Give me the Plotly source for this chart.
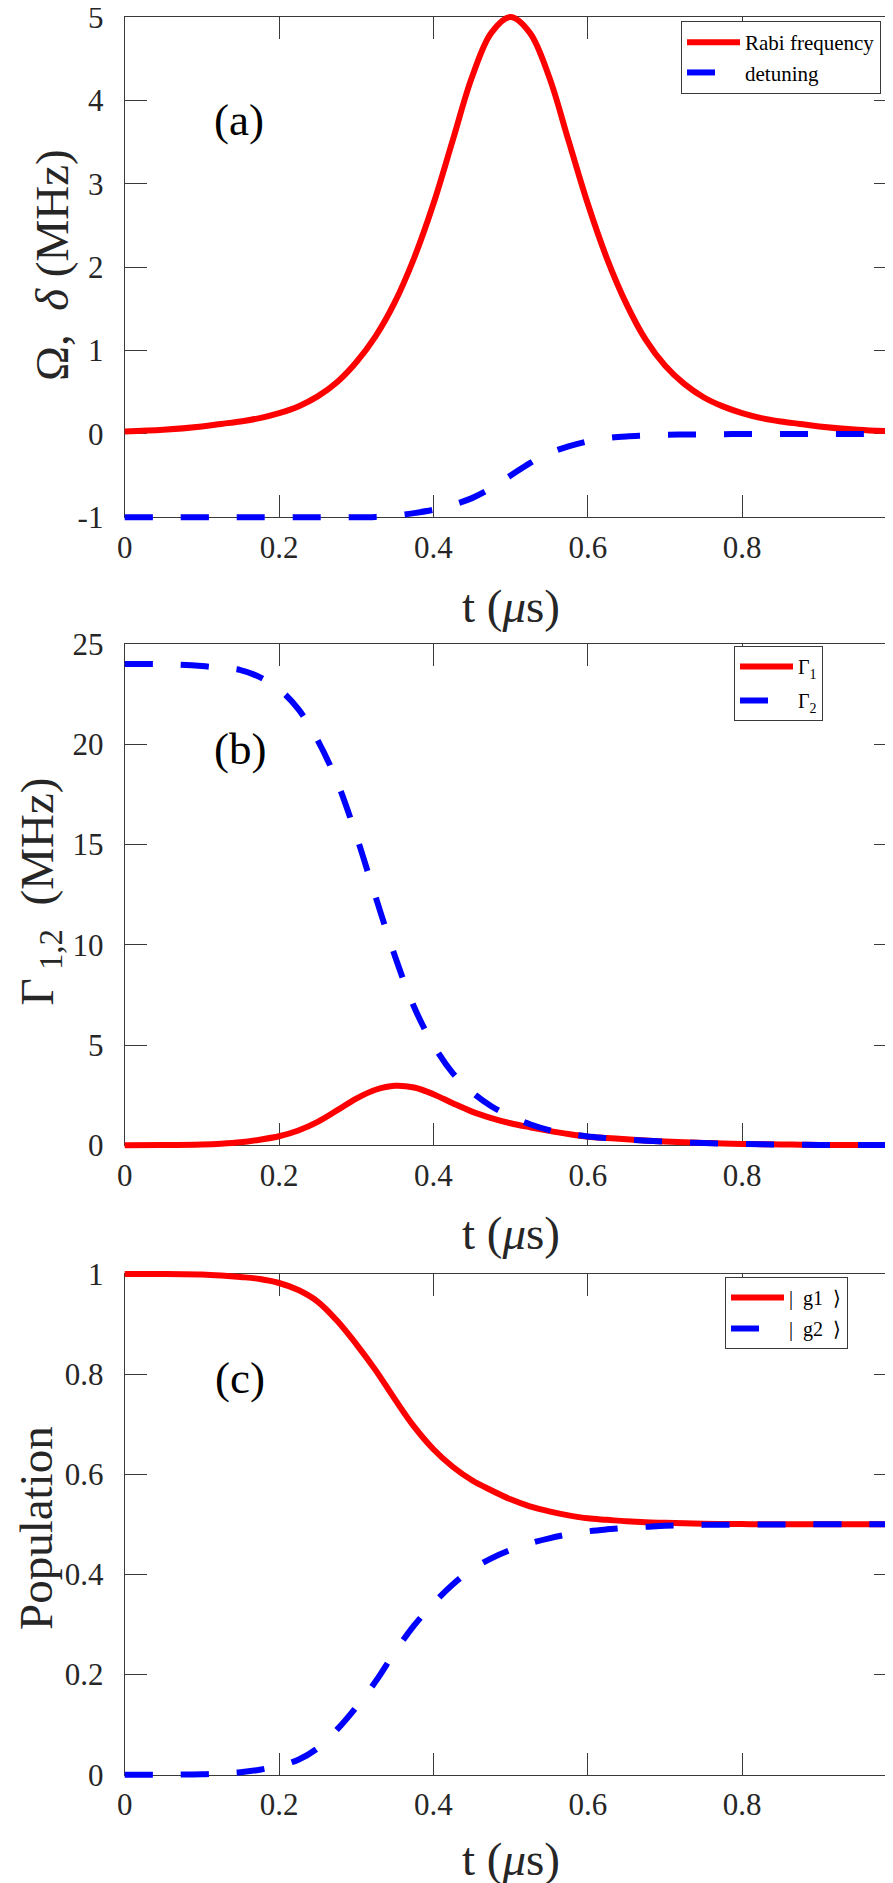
import plotly.graph_objects as go

# ---------------- data ----------------
t = [0.0, 0.05, 0.1, 0.125, 0.15, 0.175, 0.2, 0.225, 0.25, 0.275, 0.3, 0.325,
     0.35, 0.375, 0.4, 0.425, 0.45, 0.475, 0.5, 0.525, 0.55, 0.575, 0.6, 0.625,
     0.65, 0.675, 0.7, 0.725, 0.75, 0.775, 0.8, 0.825, 0.85, 0.875, 0.9, 0.95, 1.0]

rabi = [0.03, 0.05, 0.09, 0.12, 0.15, 0.19, 0.25, 0.33, 0.45, 0.62, 0.86, 1.17,
        1.58, 2.11, 2.76, 3.52, 4.28, 4.81, 5.0, 4.81, 4.28, 3.52, 2.76, 2.1,
        1.56, 1.13, 0.82, 0.6, 0.44, 0.33, 0.25, 0.19, 0.15, 0.12, 0.09, 0.05, 0.03]

detuning = [-1, -1, -1, -1, -1, -1, -1, -1, -1, -1, -1, -0.995,
            -0.98, -0.95, -0.91, -0.85, -0.77, -0.65, -0.5, -0.35, -0.23, -0.15, -0.09, -0.05,
            -0.03, -0.02, -0.01, -0.007, -0.005, -0.003, -0.002, -0.001, 0, 0, 0, 0, 0]

gamma1 = [0.0, 0.01, 0.04, 0.08, 0.15, 0.28, 0.45, 0.74, 1.17, 1.74, 2.33, 2.77,
          2.97, 2.88, 2.55, 2.1, 1.68, 1.36, 1.1, 0.9, 0.72, 0.56, 0.43, 0.36,
          0.3, 0.24, 0.19, 0.15, 0.12, 0.09, 0.07, 0.055, 0.04, 0.03, 0.02, 0.015, 0.01]

gamma2 = [24.0, 24.0, 23.9, 23.8, 23.7, 23.35, 22.75, 21.75, 20.2, 18.15, 15.45, 12.4,
          9.45, 6.9, 5.0, 3.6, 2.65, 1.95, 1.45, 1.05, 0.76, 0.57, 0.44, 0.36,
          0.29, 0.23, 0.18, 0.14, 0.11, 0.085, 0.065, 0.05, 0.04, 0.03, 0.02, 0.015, 0.01]

pop_g1 = [1.0, 1.0, 0.999, 0.997, 0.994, 0.99, 0.982, 0.968, 0.945, 0.907, 0.86, 0.808,
          0.75, 0.695, 0.65, 0.615, 0.588, 0.568, 0.55, 0.536, 0.526, 0.518, 0.512, 0.509,
          0.506, 0.504, 0.503, 0.502, 0.501, 0.5007, 0.5005, 0.5003, 0.5002, 0.5001, 0.5, 0.5, 0.5]

pop_g2 = [0.0, 0.0, 0.001, 0.003, 0.005, 0.01, 0.018, 0.03, 0.053, 0.09, 0.135, 0.186,
          0.245, 0.298, 0.342, 0.38, 0.41, 0.432, 0.449, 0.462, 0.472, 0.48, 0.486, 0.49,
          0.493, 0.495, 0.497, 0.498, 0.499, 0.4993, 0.4995, 0.4997, 0.4998, 0.4999, 0.5, 0.5, 0.5]

x_ticks = [0, 0.2, 0.4, 0.6, 0.8, 1.0]
x_ticktext = ["0", "0.2", "0.4", "0.6", "0.8", "1"]
ya_ticks = [-1, 0, 1, 2, 3, 4, 5]
yb_ticks = [0, 5, 10, 15, 20, 25]
yc_ticks = [0, 0.2, 0.4, 0.6, 0.8, 1.0]
yc_ticktext = ["0", "0.2", "0.4", "0.6", "0.8", "1"]

# ---------------- geometry (pixels) ----------------
W, H = 893, 1883
X0, X1 = 116.7, 888.5
panels = [  # (top, bottom, yrange)
    (9.0, 509.3, (-1, 5)),
    (636.0, 1137.3, (0, 25)),
    (1266.0, 1766.7, (0, 1)),
]
PAD = 10.0

FONT = "Liberation Serif, Times New Roman, serif"
AX_COL = "#3a3a3a"
TXT_COL = "#262626"
RED = "#ff0000"
BLUE = "#0000ff"
LW = 6
DASH = "28px,28px"
TICK_SIZE = 31
TITLE_SIZE = 47


def px_x(p):
    return min(1.0, max(0.0, p / W))


def px_y(p):
    return min(1.0, max(0.0, 1 - p / H))


fig = go.Figure()
layout = dict(
    width=W, height=H,
    margin=dict(l=0, r=0, t=0, b=0),
    paper_bgcolor="white", plot_bgcolor="rgba(0,0,0,0)",
    template="none",
    font=dict(family=FONT, color=TXT_COL),
    annotations=[],
)

ytick_sets = [
    (ya_ticks, [str(v) for v in ya_ticks]),
    (yb_ticks, [str(v) for v in yb_ticks]),
    (yc_ticks, yc_ticktext),
]

for i, (top, bot, yr) in enumerate(panels):
    n = i + 1
    m = i + 4
    # frame axes
    layout[f"xaxis{n}"] = dict(
        domain=[px_x(X0), px_x(X1)], range=[0, 1], anchor=f"y{n}",
        tickvals=x_ticks, ticktext=x_ticktext, ticks="inside", ticklen=22,
        tickwidth=1.2, tickcolor=AX_COL, showline=True, linecolor=AX_COL,
        linewidth=1.2, mirror="ticks", showgrid=False, zeroline=False,
        tickfont=dict(family=FONT, size=TICK_SIZE, color=TXT_COL),
        ticklabelstandoff=2, ticklabeloverflow="allow", fixedrange=True,
    )
    layout[f"yaxis{n}"] = dict(
        domain=[px_y(bot), px_y(top)], range=list(yr), anchor=f"x{n}",
        tickvals=ytick_sets[i][0], ticktext=ytick_sets[i][1], ticks="inside",
        ticklen=22, tickwidth=1.2, tickcolor=AX_COL, showline=True,
        linecolor=AX_COL, linewidth=1.2, mirror="ticks", showgrid=False,
        zeroline=False, tickfont=dict(family=FONT, size=TICK_SIZE, color=TXT_COL),
        ticklabelstandoff=14, ticklabeloverflow="allow", fixedrange=True,
    )
    # data axes: same scale, slightly larger domain so thick lines are not clipped
    ppx = (X1 - X0) / 1.0
    ppy = (bot - top) / (yr[1] - yr[0])
    pl = min(PAD, X0)
    pr = min(PAD, W - X1 - 0.5)
    pt = min(PAD, top - 0.5)
    pb = min(PAD, H - bot)
    layout[f"xaxis{m}"] = dict(
        domain=[(X0 - pl) / W, (X1 + pr) / W],
        range=[0 - pl / ppx, 1 + pr / ppx], anchor=f"y{m}", visible=False,
        fixedrange=True,
    )
    layout[f"yaxis{m}"] = dict(
        domain=[1 - (bot + pb) / H, 1 - (top - pt) / H],
        range=[yr[0] - pb / ppy, yr[1] + pt / ppy], anchor=f"x{m}",
        visible=False, fixedrange=True,
    )

# invisible anchor traces so the frame subplots exist
for n in (1, 2, 3):
    fig.add_trace(go.Scatter(x=[0], y=[panels[n - 1][2][0]], xaxis=f"x{n}",
                             yaxis=f"y{n}", mode="lines", showlegend=False,
                             hoverinfo="skip", line=dict(width=0)))

series = [
    (4, rabi, "Rabi frequency", "solid", "legend"),
    (4, detuning, "detuning", DASH, "legend"),
    (5, gamma1, "Γ<sub>1</sub>", "solid", "legend2"),
    (5, gamma2, "Γ<sub>2</sub>", DASH, "legend2"),
    (6, pop_g1, "|  g1  ⟩", "solid", "legend3"),
    (6, pop_g2, "|  g2  ⟩", DASH, "legend3"),
]
for k, (ax, ys, name, dash, leg) in enumerate(series):
    col = BLUE if dash != "solid" else RED
    fig.add_trace(go.Scatter(
        x=t, y=ys, mode="lines", name=name, xaxis=f"x{ax}", yaxis=f"y{ax}",
        line=dict(color=col, width=LW, dash=dash, shape="spline", smoothing=1.0),
        legend=leg, legendgroup=f"g{k}",
    ))

leg_common = dict(bgcolor="white", bordercolor=AX_COL, borderwidth=1,
                  xanchor="left", yanchor="top", itemwidth=53)
layout["legend"] = dict(leg_common, x=px_x(673), y=px_y(13), tracegroupgap=0,
                        font=dict(family=FONT, size=21, color="black"))
layout["legend2"] = dict(leg_common, x=px_x(726), y=px_y(638), tracegroupgap=5,
                         font=dict(family=FONT, size=20, color="black"))
layout["legend3"] = dict(leg_common, x=px_x(717), y=px_y(1269), tracegroupgap=2,
                         font=dict(family=FONT, size=20, color="black"))

# panel labels
for lab, (cx, cy) in zip(["(a)", "(b)", "(c)"], [(231, 112), (232, 741), (232, 1370)]):
    layout["annotations"].append(dict(
        text=lab, x=px_x(cx), y=px_y(cy), xref="paper", yref="paper",
        showarrow=False, xanchor="center", yanchor="middle",
        font=dict(family=FONT, size=45, color="black")))

# x titles
for cy in (598, 1225, 1851):
    layout["annotations"].append(dict(
        text="t (<i>μ</i>s)", x=px_x(503), y=px_y(cy), xref="paper", yref="paper",
        showarrow=False, xanchor="center", yanchor="middle",
        font=dict(family=FONT, size=TITLE_SIZE, color=TXT_COL)))

# y titles (left edge of the text box in pixels, vertical centre)
ytitles = [
    ("Ω,  <i>δ</i> (MHz)", 16, 257),
    ("Γ<sub> 1,2</sub>  (MHz)", 0, 884),
    ("Population", 0, 1520),
]
for txt, lx, cy in ytitles:
    layout["annotations"].append(dict(
        text=txt, x=px_x(lx), y=px_y(cy), xref="paper", yref="paper",
        showarrow=False, xanchor="left", yanchor="middle", textangle=-90,
        font=dict(family=FONT, size=TITLE_SIZE, color=TXT_COL)))

fig.update_layout(**layout)
fig.write_html("out.html")
